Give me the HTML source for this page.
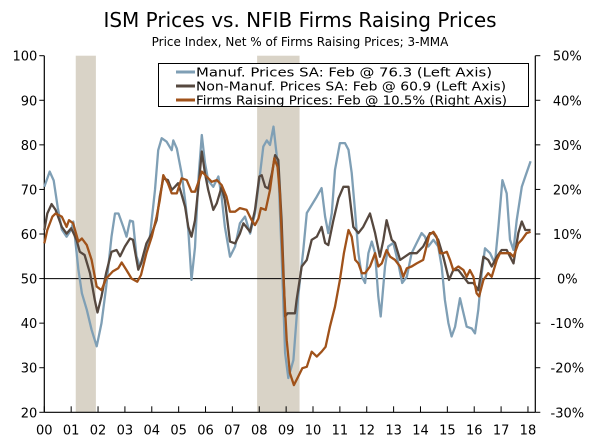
<!DOCTYPE html>
<html><head><meta charset="utf-8"><style>
body{margin:0;background:#fff;}
svg{display:block;font-family:"DejaVu Sans","Liberation Sans",sans-serif;}
</style></head><body>
<svg id="chart" width="600" height="438" viewBox="0 0 600 438" xmlns="http://www.w3.org/2000/svg">
<text x="300" y="27" text-anchor="middle" font-size="20" fill="#000">ISM Prices vs. NFIB Firms Raising Prices</text>
<text x="300" y="46" text-anchor="middle" font-size="12" fill="#000">Price Index, Net % of Firms Raising Prices; 3-MMA</text>
<g id="rec"></g>
<g id="axes"></g>
<g id="series"></g>
<g>
<rect x="158.5" y="63.5" width="370" height="43" fill="#fff" stroke="#000" stroke-width="1"/>
<line x1="176" y1="72" x2="195" y2="72" stroke="#7f9fb5" stroke-width="3"/>
<text x="196" y="76.5" font-size="12" textLength="296" lengthAdjust="spacingAndGlyphs">Manuf. Prices SA: Feb @ 76.3 (Left Axis)</text>
<line x1="176" y1="86" x2="195" y2="86" stroke="#56483f" stroke-width="3"/>
<text x="196" y="90.5" font-size="12" textLength="310" lengthAdjust="spacingAndGlyphs">Non-Manuf. Prices SA: Feb @ 60.9 (Left Axis)</text>
<line x1="176" y1="100" x2="195" y2="100" stroke="#a0521a" stroke-width="3"/>
<text x="196" y="104.5" font-size="12" textLength="311" lengthAdjust="spacingAndGlyphs">Firms Raising Prices: Feb @ 10.5% (Right Axis)</text>
</g>
</svg>
<script>
const yearLabels=["00","01","02","03","04","05","06","07","08","09","10","11","12","13","14","15","16","17","18"];
const leftTicks=[20,30,40,50,60,70,80,90,100];
const rightTicks=["-30%","-20%","-10%","0%","10%","20%","30%","40%","50%"];
const recessions=[[2001.17,2001.92],[2007.92,2009.5]];
const manufT=[2000,2000.2,2000.35,2000.5,2000.65,2000.83,2001,2001.08,2001.27,2001.4,2001.58,2001.76,2001.95,2002.13,2002.3,2002.5,2002.63,2002.76,2002.94,2003.06,2003.19,2003.3,2003.43,2003.56,2003.75,2003.93,2004.12,2004.24,2004.37,2004.55,2004.74,2004.8,2004.93,2005.11,2005.24,2005.36,2005.48,2005.61,2005.73,2005.86,2005.98,2006.1,2006.29,2006.48,2006.6,2006.72,2006.91,2007.1,2007.28,2007.47,2007.66,2007.84,2008.03,2008.15,2008.28,2008.4,2008.53,2008.71,2008.83,2008.96,2009.08,2009.27,2009.45,2009.64,2009.77,2009.95,2010.14,2010.32,2010.45,2010.57,2010.7,2010.82,2011,2011.19,2011.32,2011.44,2011.57,2011.69,2011.82,2011.94,2012.06,2012.19,2012.31,2012.43,2012.52,2012.68,2012.8,2012.99,2013.17,2013.32,2013.49,2013.67,2013.86,2014.04,2014.17,2014.29,2014.48,2014.66,2014.79,2014.91,2015.04,2015.16,2015.29,2015.47,2015.6,2015.72,2015.91,2016.03,2016.15,2016.28,2016.4,2016.59,2016.77,2016.9,2017.05,2017.21,2017.33,2017.46,2017.58,2017.77,2017.9,2018.1];
const manufV=[70.6,74,72,66,61,59.4,61,62.8,52,46.7,43,38.5,34.8,40,48,59.4,64.6,64.6,61.6,59.4,63,62.8,55,52.7,55.6,59.4,69.9,78.8,81.5,80.7,78.8,81,79.2,73.6,67.6,60.9,49.7,57,72,82.2,75.9,72,70.6,72.9,68.4,61.6,54.9,57.2,62.4,63.9,60.1,64.6,73.6,79.6,81,80,84.1,74.4,55.7,33.3,27.7,31.7,46,56.4,64.7,66.5,68.4,70.3,63.9,60.2,64.7,74.4,80.4,80.4,78.9,73.7,64.7,55.7,50.4,49,55.7,58.3,55.7,46,41.5,52.7,57.2,58,53.5,49,50.4,55.7,58,60.2,59.4,57.2,58.7,57.2,52.7,45.2,40,37,39.2,45.6,42.2,39.2,38.8,37.7,43,51.2,56.8,55.7,53.4,61.6,72.1,69.1,58.7,56.4,63.1,70.6,72.9,76.3];
const nonManufT=[2000,2000.11,2000.27,2000.42,2000.65,2000.83,2001,2001.2,2001.32,2001.5,2001.7,2001.88,2001.98,2002.13,2002.3,2002.5,2002.69,2002.82,2003,2003.19,2003.3,2003.5,2003.6,2003.8,2004,2004.18,2004.3,2004.43,2004.6,2004.74,2004.86,2004.98,2005.1,2005.24,2005.36,2005.48,2005.61,2005.76,2005.86,2005.98,2006.1,2006.29,2006.42,2006.6,2006.72,2006.91,2007.1,2007.28,2007.41,2007.66,2007.84,2008,2008.09,2008.22,2008.34,2008.47,2008.59,2008.71,2008.83,2008.96,2009.05,2009.2,2009.33,2009.39,2009.58,2009.77,2009.95,2010.14,2010.32,2010.45,2010.57,2010.76,2010.95,2011.13,2011.32,2011.5,2011.69,2011.87,2012.12,2012.31,2012.49,2012.62,2012.74,2012.93,2013.05,2013.24,2013.42,2013.61,2013.86,2014.1,2014.35,2014.48,2014.66,2014.85,2015.06,2015.22,2015.41,2015.6,2015.78,2015.97,2016.15,2016.34,2016.52,2016.65,2016.84,2017.02,2017.21,2017.46,2017.64,2017.77,2017.9,2018.1];
const nonManufV=[60.9,64.6,66.7,65.4,61.6,60.1,61.3,58.7,56,55.3,51.2,45.2,42.4,46,51.2,56,56.4,55,57.2,59,58.7,52,53.4,57.9,60.1,63.1,68.4,72.5,72.1,69.9,70.6,71.4,69.1,66.1,61.6,59.4,63.1,72.1,78.5,73.6,69.9,65.4,66.9,70.6,67.6,58.3,57.9,60.1,62.4,60.5,65.4,72.9,73.2,70.6,70.2,73.6,77.7,76.6,63.1,41.5,42.2,42.2,42.2,45.2,52.7,54.2,58.7,59.4,61.6,58,57.5,63.1,68,70.6,70.6,61.6,60.2,61.6,64.6,60.2,54.9,58.7,63.1,58.7,58,54.2,54.9,55.7,55.7,57.2,60.2,60.2,58.7,54.9,49.7,51.9,51.9,50.4,49,49,47.4,54.9,54.2,52.7,54.9,56.4,56.4,53.4,60.2,62.8,60.9,60.9];
const firmsT=[2000,2000.11,2000.3,2000.42,2000.65,2000.83,2000.92,2001.07,2001.27,2001.4,2001.58,2001.76,2001.95,2002.13,2002.3,2002.55,2002.75,2002.88,2003.06,2003.25,2003.46,2003.6,2003.8,2004,2004.18,2004.3,2004.43,2004.6,2004.74,2004.93,2005.11,2005.3,2005.48,2005.61,2005.76,2005.86,2006.04,2006.23,2006.42,2006.6,2006.78,2006.91,2007.1,2007.28,2007.53,2007.72,2007.84,2007.97,2008.06,2008.24,2008.4,2008.56,2008.68,2008.77,2008.9,2009.02,2009.14,2009.29,2009.45,2009.6,2009.77,2009.95,2010.14,2010.32,2010.47,2010.63,2010.82,2011,2011.15,2011.32,2011.44,2011.57,2011.69,2011.82,2011.94,2012.12,2012.31,2012.43,2012.56,2012.74,2012.87,2013.05,2013.24,2013.36,2013.49,2013.67,2013.86,2014.1,2014.33,2014.48,2014.6,2014.73,2014.85,2014.98,2015.1,2015.22,2015.41,2015.6,2015.72,2015.84,2015.97,2016.09,2016.18,2016.34,2016.52,2016.65,2016.84,2016.96,2017.15,2017.33,2017.46,2017.64,2017.77,2017.95,2018.1];
const firmsPct=[7.9,10.9,13.9,14.6,13.9,11.6,13.1,12.4,8.3,9,7.5,4.2,-1.8,-2.6,0,1.6,2.3,3.6,1.9,0,-0.7,0.8,5.7,9.4,13.9,17.6,23.2,21.4,19.1,19.1,22.5,22.1,19.5,19.5,22.1,24,22.9,21.7,22.1,21,18.4,15,15,15.8,15.4,13.1,12,13.5,15.8,15.4,19.9,27,25.1,19.1,0.4,-13.8,-21.2,-23.9,-22,-20.1,-19.8,-16.4,-17.5,-16.4,-15.3,-10.8,-6.3,-0.3,5.7,10.9,9.4,4.2,3.4,1.2,1.2,2.7,5.7,2.7,3.4,6.4,4.9,4.2,2.7,0.4,2.3,2.7,3.4,4.2,9.8,10.5,9.4,5.7,5.7,6,4.2,1.9,2.7,1.9,0.4,1.9,0.4,-3.3,-4,-0.3,1.2,0.4,4.2,5.7,5.7,5.7,4.9,7.9,8.7,10.2,10.5];

const NS="http://www.w3.org/2000/svg";
const X0=44.3,YW=26.87,YT=55.7,YB=412.3,XR=535.3;
function xs(t){return X0+(t-2000)*YW;}
function yl(v){return YB-(v-20)*(YB-YT)/80;}
function yr(p){return yl(p+50);}
function mk(tag,attrs,parent){const e=document.createElementNS(NS,tag);for(const k in attrs)e.setAttribute(k,attrs[k]);parent.appendChild(e);return e;}
const rec=document.getElementById('rec'),axes=document.getElementById('axes'),ser=document.getElementById('series');
recessions.forEach((r,i)=>{const e=mk('rect',{x:xs(r[0]),y:YT,width:xs(r[1])-xs(r[0]),height:YB-YT,fill:'#d9d3c7'},rec);

});
let e=mk('line',{x1:X0,y1:yl(50),x2:XR,y2:yl(50),stroke:'#000','stroke-width':1},axes);


e=mk('line',{x1:X0,y1:YT,x2:X0,y2:YB,stroke:'#000','stroke-width':1.2},axes);


e=mk('line',{x1:XR,y1:YT,x2:XR,y2:YB,stroke:'#000','stroke-width':1.2},axes);


e=mk('line',{x1:X0,y1:YB,x2:XR,y2:YB,stroke:'#000','stroke-width':1.2},axes);


leftTicks.forEach(v=>{const y=yl(v);mk('line',{x1:X0-5,y1:y,x2:X0,y2:y,stroke:'#000'},axes);
const t=mk('text',{x:X0-7,y:y+5,'text-anchor':'end','font-size':13},axes);t.textContent=v;

});
rightTicks.forEach((s,i)=>{const y=yl(leftTicks[i]);mk('line',{x1:XR,y1:y,x2:XR+5,y2:y,stroke:'#000'},axes);
const t=mk('text',{x:XR+32,y:y+5,'text-anchor':'middle','font-size':13},axes);t.textContent=s;

});
yearLabels.forEach((s,i)=>{const x=xs(2000+i);mk('line',{x1:x,y1:YB-6,x2:x,y2:YB,stroke:'#000'},axes);
const t=mk('text',{x:x,y:YB+22,'text-anchor':'middle','font-size':13},axes);t.textContent=s;

});
function line(T,V,fy,color,name){const d=T.map((t,i)=>(i?'L':'M')+xs(t).toFixed(1)+','+fy(V[i]).toFixed(1)).join('');
const p=mk('path',{d:d,fill:'none',stroke:color,'stroke-width':2.3,'stroke-linejoin':'round'},ser);

}
line(manufT,manufV,yl,'#7f9fb5','manuf-prices-line');
line(nonManufT,nonManufV,yl,'#56483f','nonmanuf-prices-line');
line(firmsT,firmsPct,yr,'#a0521a','firms-raising-prices-line');
</script>
</body></html>
